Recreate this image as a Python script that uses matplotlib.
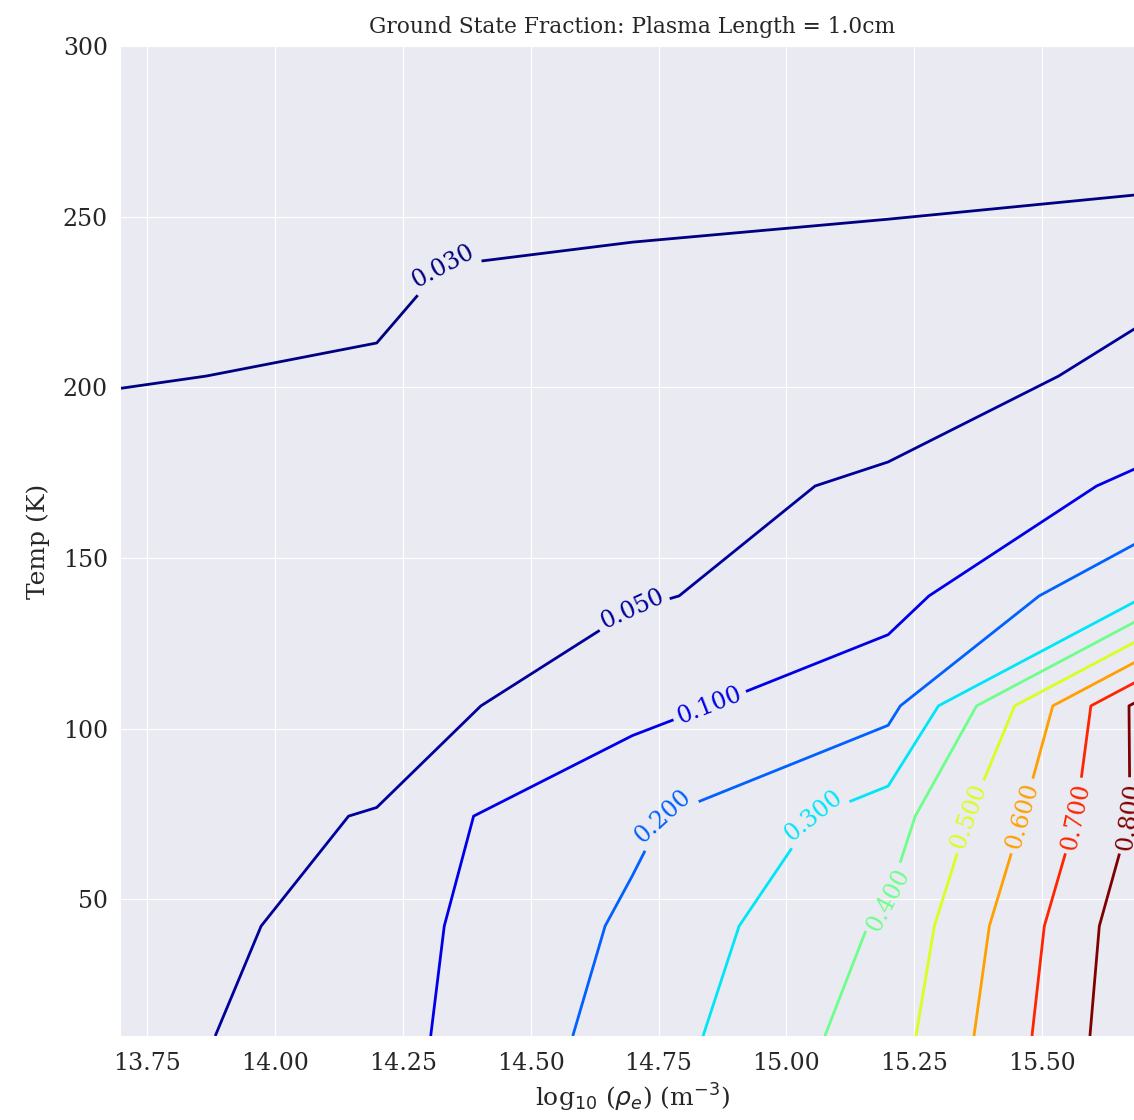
import numpy as np
import matplotlib
matplotlib.use('Agg')
import matplotlib.pyplot as plt

# grid of the calculation: log10 electron density (m^-3) and temperature (K)
log_density = [13.699, 14.199, 14.699, 15.199, 15.699]
temps = [10, 42.2, 74.4, 106.7, 138.9, 171.1, 203.3, 235.6, 267.8, 300]

# ground state fraction, one list per density column
frac_13p7 = [0.043, 0.0403, 0.0403, 0.036, 0.0335, 0.0312, 0.02985, 0.027, 0.024, 0.021]
frac_14p2 = [0.062, 0.058, 0.0512, 0.0359, 0.034, 0.032, 0.0303, 0.0293, 0.026, 0.022]
frac_14p7 = [0.242, 0.217, 0.180, 0.0705, 0.0471, 0.043, 0.038, 0.032, 0.0227, 0.020]
frac_15p2 = [0.452, 0.416, 0.3495, 0.168, 0.063, 0.0528, 0.040, 0.035, 0.0232, 0.020]
frac_15p7 = [0.893, 0.881, 0.826, 0.839, 0.295, 0.1107, 0.055, 0.0446, 0.0222, 0.019]

levels = [0.03, 0.05, 0.1, 0.2, 0.3, 0.4, 0.5, 0.6, 0.7, 0.8]

plt.style.use('seaborn-v0_8-darkgrid')
plt.rcParams['font.family'] = 'serif'
plt.rcParams['font.serif'] = ['DejaVu Serif']

Z = np.column_stack([frac_13p7, frac_14p2, frac_14p7, frac_15p2, frac_15p7])

fig = plt.figure(figsize=(11.34, 11.2), dpi=100)
# right edge of the axes runs slightly past the picture, like the reference crop
ax = fig.add_axes([0.1067, 0.075, 0.902, 0.884])
cs = ax.contour(log_density, temps, Z, levels=levels, cmap='jet', linewidths=2)
ax.clabel(cs, fmt='%1.3f', fontsize=17, inline=True)

ax.set_title('Ground State Fraction: Plasma Length = 1.0cm', fontsize=15.7, pad=9)
ax.set_xlabel(r'log$_{10}$ ($\rho_e$) (m$^{-3}$)', fontsize=18, labelpad=5)
ax.set_ylabel('Temp (K)', fontsize=18, labelpad=9)
ax.tick_params(axis='x', labelsize=17, pad=11.5)
ax.tick_params(axis='y', labelsize=17, pad=9.4)

fig.savefig('out.png', dpi=100)
